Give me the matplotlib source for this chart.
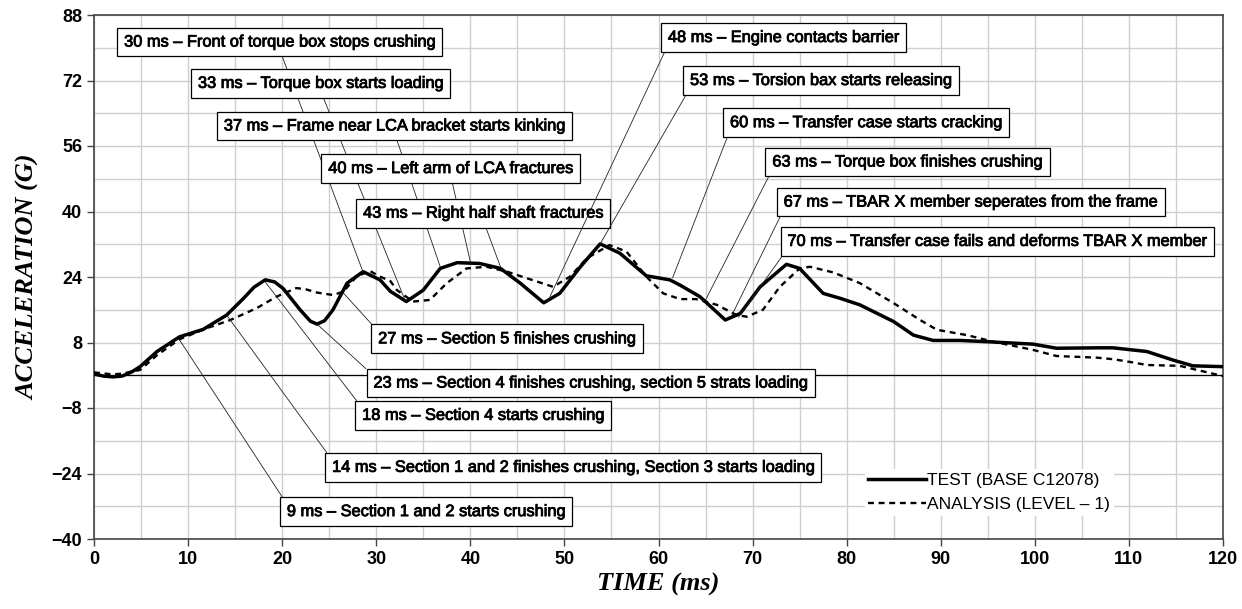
import numpy as np
import matplotlib
matplotlib.use('Agg')
from matplotlib import pyplot as plt
from matplotlib.ticker import MultipleLocator
import matplotlib.patheffects as pe

# 试验曲线 TEST (BASE C12078)
test_t = [0, 1, 2, 3, 4, 4.9, 6.7, 9.1, 11.6, 14.1, 15.9, 17.0, 18.2, 19.2, 20.1,
          21.9, 23.0, 23.7, 24.5, 25.4, 26.9, 28.6, 30.4, 31.5, 33.2, 35.0, 36.8,
          38.6, 41.0, 43.2, 45.3, 47.8, 49.5, 51.7, 53.8, 55.9, 58.7, 61.2, 62.3,
          64.4, 67.1, 68.7, 70.8, 73.6, 75.0, 77.5, 79.3, 81.4, 85.0, 87.1, 89.2,
          92.0, 94.9, 99.8, 102.3, 106.6, 108.3, 111.9, 114.7, 116.8, 120]
test_g = [0.3, -0.2, -0.4, -0.2, 0.8, 2.1, 5.8, 9.4, 11.2, 14.7, 18.8, 21.5, 23.3, 22.8, 21.2,
          16.0, 13.2, 12.5, 13.3, 16.0, 22.5, 25.3, 23.3, 20.5, 18.0, 20.8, 26.1,
          27.5, 27.3, 26.1, 22.5, 17.7, 20.0, 26.5, 32.1, 29.8, 24.3, 23.3, 22.0,
          19.2, 13.5, 15.1, 21.6, 27.1, 26.1, 20.0, 18.8, 17.2, 13.1, 9.8, 8.5,
          8.5, 8.2, 7.6, 6.6, 6.7, 6.7, 5.8, 3.7, 2.3, 2.1]

# 仿真曲线 ANALYSIS (LEVEL - 1)
ana_t = [0, 2, 3, 4.9, 6.7, 9.1, 12.0, 14.5, 17.3, 19.4, 21.5, 22.5, 23.7, 25.4, 26.5,
         27.9, 29.3, 30.4, 31.5, 32.2, 33.9, 35.7, 37.5, 39.6, 41.7, 43.9, 46.0, 48.8,
         50.6, 52.4, 54.8, 56.6, 58.7, 60.5, 62.3, 64.0, 66.2, 68.3, 69.4, 71.1, 72.9,
         75.0, 76.1, 78.6, 81.4, 85.0, 87.8, 89.6, 92.8, 95.6, 99.8, 102.3, 106.6,
         108.4, 110.5, 111.9, 115.4, 120]
ana_g = [0.7, 0.2, 0.4, 1.3, 4.9, 8.8, 11.5, 13.5, 16.4, 19.2, 21.3, 21.0, 20.2, 19.6, 20.4,
         24.1, 25.5, 24.1, 23.0, 20.8, 18.0, 18.4, 22.5, 26.1, 26.5, 25.3, 23.7, 21.6,
         24.1, 28.6, 31.8, 30.2, 24.1, 20.0, 18.6, 18.6, 17.2, 14.7, 14.3, 16.0, 21.6,
         26.1, 26.5, 25.1, 22.5, 17.6, 13.5, 11.1, 9.8, 8.2, 6.2, 4.7, 4.3,
         3.9, 3.1, 2.5, 2.3, -0.2]

# 事件标注：文字、曲线上的指向点
notes = ["30 ms \u2013 Front of torque box stops crushing",
         "33 ms \u2013 Torque box starts loading",
         "37 ms \u2013 Frame near LCA bracket starts kinking",
         "40 ms \u2013 Left arm of LCA fractures",
         "43 ms \u2013 Right half shaft fractures",
         "48 ms \u2013 Engine contacts barrier",
         "53 ms \u2013 Torsion bax starts releasing",
         "60 ms \u2013 Transfer case starts cracking",
         "63 ms \u2013 Torque box finishes crushing",
         "67 ms \u2013 TBAR X member seperates from the frame",
         "70 ms \u2013 Transfer case fails and deforms TBAR X member",
         "27 ms \u2013 Section 5 finishes crushing",
         "23 ms \u2013 Section 4 finishes crushing, section 5 strats loading",
         "18 ms \u2013 Section 4 starts crushing",
         "14 ms \u2013 Section 1 and 2 finishes crushing, Section 3 starts loading",
         "9 ms \u2013 Section 1 and 2 starts crushing"]
note_t = [28.6, 33.1, 36.8, 40.0, 43.2, 48.2, 53.8, 61.5, 65.0, 67.7, 68.5,
          26.5, 23.7, 18.2, 14.1, 9.1]
note_g = [25.2, 18.1, 26.5, 27.7, 26.5, 17.9, 32.1, 23.8, 18.4, 14.2, 14.2,
          20.1, 12.5, 22.8, 14.7, 8.6]

# 文字框位置（左侧, 垂直中心）以及引线起点在框上的相对位置
box_x = [3.2, 11.05, 13.8, 24.9, 28.6, 61.0, 63.35, 67.6, 72.1, 73.3, 73.7,
         30.2, 29.7, 28.5, 25.3, 20.5]
box_y = [81.4, 71.3, 60.9, 50.5, 39.6, 82.5, 72.0, 61.7, 52.1, 42.3, 32.7,
         8.9, -1.9, -9.8, -22.5, -33.3]
rel = [(0.5, 0)] * 5 + [(0, 0)] * 6 + [(0, 1)] * 5

sans = ['Liberation Sans', 'DejaVu Sans']
serif = ['Liberation Serif', 'DejaVu Serif']
heavy = [pe.withStroke(linewidth=0.6, foreground='black')]

fig = plt.figure(figsize=(12.42, 6.09), dpi=100)
ax = fig.add_axes([94 / 1242, 1 - 539 / 609, (1223 - 94) / 1242, (539 - 15) / 609])

ax.set_xlim(0, 120)
ax.set_ylim(-40, 88)
ax.set_xticks(np.arange(0, 121, 10))
ax.set_yticks(np.arange(-40, 89, 16))
ax.xaxis.set_minor_locator(MultipleLocator(5))
ax.yaxis.set_minor_locator(MultipleLocator(8))
ax.grid(True, which='both', color='#cfcfcf', lw=1.0)
ax.set_axisbelow(True)
ax.tick_params(which='major', direction='out', length=5, width=1, color='#444444')
ax.tick_params(which='minor', length=0)
for s in ax.spines.values():
    s.set_color('#444444')
    s.set_linewidth(1.2)
for lab in ax.get_xticklabels() + ax.get_yticklabels():
    lab.set_fontfamily(sans)
    lab.set_fontweight('bold')
    lab.set_fontsize(13)

ax.axhline(0, color='black', lw=0.9, zorder=2)

ax.plot(test_t, test_g, color='black', lw=2.5, label='TEST (BASE C12078)', zorder=3)
ax.plot(ana_t, ana_g, color='black', lw=1.7, dashes=(2.5, 2.0),
        label='ANALYSIS (LEVEL \u2013 1)', zorder=3)

for i in range(len(notes)):
    ax.annotate(notes[i], xy=(note_t[i], note_g[i]), xytext=(box_x[i], box_y[i]),
                textcoords='data', ha='left', va='center', fontsize=11.8,
                family=sans, zorder=5 + i * 0.01, path_effects=heavy,
                bbox=dict(boxstyle='square,pad=0.42', fc='white', ec='black', lw=0.9),
                arrowprops=dict(arrowstyle='-', color='#222222', lw=0.6,
                                shrinkA=0, shrinkB=0, relpos=rel[i]))

leg = ax.legend(loc='upper left', bbox_to_anchor=(0.675, 0.15), frameon=True,
                handlelength=3.3, handletextpad=0.1, borderpad=0.2, labelspacing=0.55,
                prop={'family': sans, 'size': 12.5})
leg.get_frame().set_edgecolor('none')
leg.get_frame().set_facecolor('white')
leg.get_frame().set_alpha(1)
leg.set_zorder(4)

ax.set_xlabel('TIME (ms)', family=serif, style='italic',
              fontweight='bold', fontsize=19, labelpad=4)
ax.set_ylabel('ACCELERATION (G)', family=serif, style='italic',
              fontweight='bold', fontsize=19, labelpad=8)

fig.savefig('out.png', dpi=100)
